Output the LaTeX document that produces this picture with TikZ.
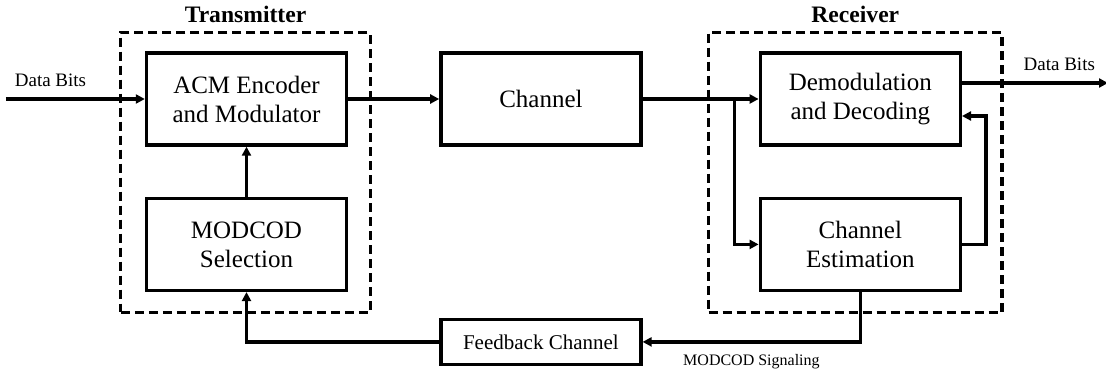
\documentclass[tikz,border=0pt]{standalone}
\usepackage{fontspec}
\setmainfont{Liberation Serif}
\usetikzlibrary{
  arrows.meta,
  calc,
  fit,
  positioning,
}
\tikzset{
  >={Triangle[length=4.5pt,width=4.5pt]},
  blk/.style={draw,rectangle,line width=1.7pt,minimum width=100pt,minimum height=46pt,align=center,font=\fontsize{12.5}{14.5}\selectfont},
  grp/.style={draw,rectangle,dash pattern=on 4.5pt off 2.5pt,line width=1.6pt,inner sep=0pt},
  grptitle/.style={font=\fontsize{11.8}{14}\selectfont\bfseries},
  sig/.style={font=\fontsize{9.5}{11}\selectfont},
  wire/.style={line width=1.6pt},
}

\begin{document}
\begin{tikzpicture}[node distance=25pt and 45.5pt]
  \useasboundingbox (-123.25pt,49.5pt) rectangle (429.75pt,-135.5pt);

  \node[blk]    (acm)                       {ACM Encoder\\and Modulator};
  \node[blk]    (modcod) [below=of acm]     {MODCOD\\Selection};
  \node[blk]    (chan)   [right=of acm]     {Channel};
  \node[blk]    (demod)  [right=58pt of chan] {Demodulation\\and Decoding};
  \node[blk]    (chest)  [below=of demod]   {Channel\\Estimation};
  \node[blk,minimum height=22.5pt,font=\fontsize{10.5}{12}\selectfont] (fb) [below=85.5pt of chan] {Feedback Channel};

  \node[grp,fit={($(acm.north west)+(-12pt,9.5pt)$) ($(modcod.south east)+(11pt,-10pt)$)}] (tx) {};
  \node[grp,fit={($(demod.north west)+(-25pt,9.5pt)$) ($(chest.south east)+(20pt,-10pt)$)}] (rx) {};
  \node[grptitle] (txtitle) [above=0.5pt of tx] {Transmitter};
  \node[grptitle] (rxtitle) [above=0.5pt of rx] {Receiver};

  \coordinate[left=69.5pt of acm.west] (din);
  \draw[wire,->] (din) -- (acm);
  \node[sig] (dinlbl) [above right=2.5pt and 1pt of din] {Data Bits};

  \draw[wire,->] (modcod) -- (acm);
  \draw[wire,->] (acm) -- (chan);
  \draw[wire,->] (chan) -- (demod);

  \coordinate[left=12pt of demod.west] (split);
  \draw[wire,->] (split) |- (chest);

  \coordinate (demodin) at ($(demod.east)+(0,-8.5pt)$);
  \draw[wire,->] (chest.east) -- ++(12pt,0) |- (demodin);

  \coordinate (demodout) at ($(demod.east)+(0,8pt)$);
  \coordinate[right=73pt of demodout] (dout);
  \draw[wire,->] (demodout) -- (dout);
  \node[sig] (doutlbl) [above left=2.5pt and 3pt of dout] {Data Bits};

  \draw[wire,->] (chest) |- node[pos=0.75,below=2pt,font=\fontsize{8}{10}\selectfont] (siglbl) {MODCOD Signaling} (fb);
  \draw[wire,->] (fb) -| (modcod);
\end{tikzpicture}
\end{document}
